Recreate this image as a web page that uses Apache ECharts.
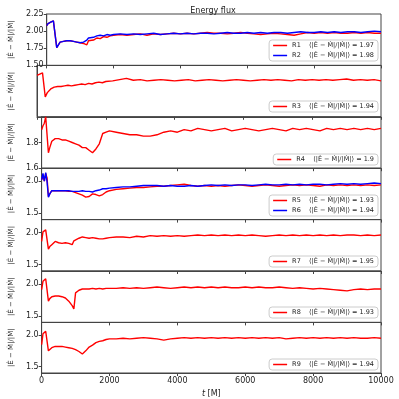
<!DOCTYPE html>
<html>
<head>
<meta charset="utf-8">
<script src="https://cdn.jsdelivr.net/npm/echarts@6/dist/echarts.min.js"></script>
<style>
  html, body { margin: 0; padding: 0; background: #fff; }
  #chart { width: 399px; height: 399px; }
</style>
</head>
<body>
<div id="chart"></div>
<script>
// time axis [M], shared by all runs
const times = [0, 40, 80, 120, 160, 200, 240, 300, 400, 500, 600, 700, 800, 850, 900, 950, 1000, 1100, 1200, 1250, 1300, 1400, 1500, 1600, 1700, 1800, 1900, 2000,
  2200, 2400, 2600, 2800, 3000, 3200, 3400, 3600, 3800, 4000, 4200, 4400, 4600, 4800, 5000, 5200, 5400, 5600, 5800, 6000,
  6200, 6400, 6600, 6800, 7000, 7200, 7400, 7600, 7800, 8000, 8200, 8400, 8600, 8800, 9000, 9200, 9400, 9600, 9800, 10000];

const R1 = [2.08, 2.11, 2.12, 2.13, 2.14, 2.15, 2.16, 1.76, 1.84, 1.85, 1.86, 1.86, 1.85, 1.85, 1.84, 1.84, 1.83, 1.82, 1.80, 1.86, 1.88, 1.87, 1.90, 1.89, 1.92, 1.91, 1.93, 1.94,
  1.95, 1.94, 1.95, 1.96, 1.94, 1.96, 1.95, 1.96, 1.97, 1.96, 1.97, 1.96, 1.97, 1.98, 1.97, 1.97, 1.96, 1.97, 1.98, 1.97,
  1.96, 1.95, 1.96, 1.97, 1.96, 1.95, 1.94, 1.96, 1.98, 1.97, 1.98, 1.97, 1.98, 1.97, 1.97, 1.98, 1.97, 1.98, 1.97, 1.97];
const R2 = [2.08, 2.11, 2.12, 2.13, 2.14, 2.15, 2.16, 1.76, 1.84, 1.85, 1.86, 1.86, 1.85, 1.85, 1.84, 1.84, 1.83, 1.84, 1.87, 1.90, 1.92, 1.91, 1.93, 1.94, 1.93, 1.95, 1.94, 1.95,
  1.96, 1.95, 1.96, 1.95, 1.96, 1.97, 1.95, 1.96, 1.97, 1.96, 1.97, 1.96, 1.97, 1.97, 1.96, 1.97, 1.98, 1.97, 1.97, 1.98,
  1.97, 1.98, 1.97, 1.98, 1.98, 1.97, 1.98, 1.99, 1.98, 1.98, 1.99, 1.98, 1.99, 1.98, 1.99, 1.99, 1.98, 1.99, 2.00, 1.99];
const R3 = [2.02, 2.03, 2.04, 2.05, 2.06, 2.07, 1.67, 1.74, 1.80, 1.83, 1.84, 1.84, 1.85, 1.84, 1.86, 1.85, 1.85, 1.86, 1.87, 1.86, 1.88, 1.87, 1.89, 1.88, 1.90, 1.91, 1.90, 1.92,
  1.93, 1.95, 1.97, 1.94, 1.95, 1.93, 1.94, 1.95, 1.94, 1.93, 1.94, 1.95, 1.93, 1.94, 1.95, 1.94, 1.93, 1.94, 1.95, 1.94,
  1.93, 1.94, 1.95, 1.94, 1.95, 1.94, 1.93, 1.95, 1.94, 1.95, 1.94, 1.95, 1.94, 1.95, 1.96, 1.94, 1.95, 1.94, 1.95, 1.93];
const R4 = [1.90, 1.93, 1.95, 2.00, 2.00, 1.72, 1.76, 1.81, 1.83, 1.83, 1.82, 1.82, 1.81, 1.80, 1.80, 1.79, 1.79, 1.78, 1.76, 1.75, 1.76, 1.74, 1.72, 1.75, 1.79, 1.87, 1.88, 1.89,
  1.88, 1.87, 1.86, 1.86, 1.85, 1.85, 1.86, 1.88, 1.89, 1.88, 1.90, 1.89, 1.91, 1.90, 1.89, 1.90, 1.91, 1.89, 1.90, 1.91,
  1.90, 1.89, 1.90, 1.91, 1.90, 1.89, 1.91, 1.90, 1.91, 1.90, 1.89, 1.91, 1.90, 1.91, 1.90, 1.91, 1.90, 1.91, 1.90, 1.91];
const R5 = [2.02, 2.08, 2.00, 2.12, 2.05, 1.76, 1.80, 1.85, 1.85, 1.85, 1.85, 1.85, 1.84, 1.84, 1.84, 1.83, 1.82, 1.80, 1.78, 1.77, 1.75, 1.76, 1.80, 1.79, 1.77, 1.79, 1.83, 1.85,
  1.87, 1.88, 1.89, 1.90, 1.90, 1.91, 1.92, 1.92, 1.93, 1.94, 1.95, 1.93, 1.92, 1.93, 1.92, 1.93, 1.92, 1.93, 1.94, 1.93,
  1.92, 1.93, 1.94, 1.93, 1.92, 1.93, 1.94, 1.93, 1.94, 1.93, 1.92, 1.94, 1.93, 1.94, 1.93, 1.94, 1.93, 1.94, 1.93, 1.94];
const R6 = [2.02, 2.12, 2.00, 2.13, 1.99, 1.75, 1.80, 1.85, 1.85, 1.85, 1.85, 1.85, 1.85, 1.85, 1.84, 1.85, 1.84, 1.84, 1.85, 1.84, 1.84, 1.84, 1.83, 1.85, 1.86, 1.88, 1.88, 1.89,
  1.90, 1.91, 1.91, 1.92, 1.93, 1.93, 1.93, 1.92, 1.93, 1.92, 1.92, 1.93, 1.92, 1.93, 1.94, 1.93, 1.94, 1.93, 1.94, 1.94,
  1.93, 1.94, 1.95, 1.94, 1.94, 1.95, 1.94, 1.95, 1.94, 1.95, 1.95, 1.94, 1.95, 1.96, 1.95, 1.96, 1.95, 1.96, 1.97, 1.96];
const R7 = [1.86, 2.01, 2.03, 2.04, 2.04, 1.74, 1.78, 1.81, 1.86, 1.84, 1.83, 1.84, 1.83, 1.82, 1.81, 1.87, 1.89, 1.91, 1.93, 1.92, 1.92, 1.91, 1.92, 1.91, 1.90, 1.90, 1.91, 1.92,
  1.93, 1.93, 1.92, 1.94, 1.93, 1.95, 1.94, 1.95, 1.94, 1.95, 1.94, 1.95, 1.96, 1.95, 1.96, 1.95, 1.96, 1.95, 1.96, 1.95,
  1.96, 1.95, 1.94, 1.95, 1.96, 1.95, 1.96, 1.95, 1.96, 1.95, 1.96, 1.95, 1.96, 1.95, 1.96, 1.96, 1.95, 1.96, 1.95, 1.96];
const R8 = [1.91, 2.04, 2.07, 2.08, 2.07, 1.73, 1.77, 1.80, 1.81, 1.81, 1.80, 1.78, 1.73, 1.70, 1.66, 1.61, 1.86, 1.90, 1.92, 1.91, 1.92, 1.92, 1.93, 1.92, 1.93, 1.92, 1.93, 1.93,
  1.93, 1.94, 1.93, 1.94, 1.93, 1.94, 1.95, 1.94, 1.93, 1.94, 1.95, 1.94, 1.95, 1.94, 1.95, 1.94, 1.95, 1.94, 1.94, 1.95,
  1.94, 1.95, 1.94, 1.94, 1.95, 1.94, 1.93, 1.94, 1.93, 1.92, 1.93, 1.92, 1.91, 1.90, 1.89, 1.91, 1.92, 1.91, 1.92, 1.92];
const R9 = [1.85, 2.02, 2.05, 2.06, 2.07, 1.75, 1.78, 1.80, 1.82, 1.82, 1.82, 1.81, 1.80, 1.80, 1.79, 1.78, 1.77, 1.74, 1.70, 1.69, 1.75, 1.81, 1.84, 1.88, 1.90, 1.91, 1.93, 1.94,
  1.94, 1.95, 1.94, 1.95, 1.96, 1.95, 1.94, 1.92, 1.94, 1.95, 1.96, 1.95, 1.96, 1.95, 1.96, 1.95, 1.96, 1.95, 1.96, 1.95,
  1.96, 1.95, 1.96, 1.95, 1.96, 1.94, 1.95, 1.96, 1.95, 1.96, 1.95, 1.96, 1.95, 1.96, 1.95, 1.96, 1.95, 1.95, 1.96, 1.95];

const runNames = ['R1', 'R2', 'R3', 'R4', 'R5', 'R6', 'R7', 'R8', 'R9'];
const runValues = [R1, R2, R3, R4, R5, R6, R7, R8, R9];
const runMeans = ['1.97', '1.98', '1.94', '1.9', '1.93', '1.94', '1.95', '1.93', '1.94'];
const runColors = ['#ff0000', '#0000ff', '#ff0000', '#ff0000', '#ff0000', '#0000ff', '#ff0000', '#ff0000', '#ff0000'];
const runPanel = [0, 0, 1, 2, 3, 3, 4, 5, 6];

const yRanges = [[1.5, 2.25], [1.35, 2.18], [1.6, 2.0], [1.4, 2.2], [1.4, 2.2], [1.4, 2.2], [1.4, 2.2]];
const yTickLabels = [[1.5, 1.75, 2.0, 2.25], [], [1.6, 1.8], [1.5, 2.0], [1.5, 2.0], [1.5, 2.0], [1.5, 2.0]];
const legendTops = [40, 101, 154, 195, 256, 307, 359];

const yName = '|Ė − Ṁ|/|Ṁ|';
const meanText = '⟨|Ė − Ṁ|/|Ṁ|⟩';

const panelTop = 14, panelH = 51.4, nPanels = 7;
const chart = echarts.init(document.getElementById('chart'), null, { renderer: 'canvas' });

const grids = [], xAxes = [], yAxes = [], legends = [];
for (let p = 0; p < nPanels; p++) {
  const last = p === nPanels - 1;
  grids.push({ left: 36, right: 18, top: panelTop + p * panelH, height: panelH, show: true, borderColor: '#444', borderWidth: 1, backgroundColor: 'transparent' });
  xAxes.push({
    gridIndex: p, type: 'value', min: 0, max: 10000, interval: 2000,
    axisLine: { show: true, lineStyle: { color: '#444' } },
    axisTick: { show: true, length: 3, lineStyle: { color: '#444' } },
    axisLabel: { show: last, fontSize: 8, color: '#222', margin: 4, fontFamily: 'DejaVu Sans', formatter: v => String(v) },
    splitLine: { show: false },
    name: last ? '{i|t} [M]' : '',
    nameLocation: 'middle', nameGap: 17,
    nameTextStyle: { fontSize: 8, color: '#222', fontFamily: 'DejaVu Sans', rich: { i: { fontStyle: 'italic', fontSize: 8, fontFamily: 'DejaVu Sans' } } }
  });
  const dec = p === 0 ? 2 : 1;
  yAxes.push({
    gridIndex: p, type: 'value', min: yRanges[p][0], max: yRanges[p][1],
    axisLine: { show: true, lineStyle: { color: '#444' } },
    axisTick: { show: yTickLabels[p].length > 0, length: 3, customValues: yTickLabels[p], lineStyle: { color: '#444' } },
    axisLabel: { show: yTickLabels[p].length > 0, customValues: yTickLabels[p], fontSize: 8, color: '#222', margin: 3, fontFamily: 'DejaVu Sans', formatter: v => v.toFixed(dec) },
    splitLine: { show: false },
    name: yName, nameLocation: 'middle', nameGap: p === 0 ? 24 : 22, nameRotate: 90,
    nameTextStyle: { fontSize: 7, color: '#222', fontFamily: 'DejaVu Sans' }
  });
  const names = runNames.filter((n, i) => runPanel[i] === p);
  legends.push({
    data: names, orient: 'vertical', right: 21, top: legendTops[p],
    backgroundColor: '#fff', borderColor: '#ccc', borderWidth: 1, borderRadius: 3,
    padding: [2, 4, 2, 4], itemGap: 3, itemWidth: 14, itemHeight: 1.5, icon: 'rect',
    selectedMode: false,
    textStyle: { fontSize: 6.5, color: '#222', fontFamily: 'DejaVu Sans' },
    formatter: name => name + '    ' + meanText + ' = ' + runMeans[runNames.indexOf(name)]
  });
}

const series = runNames.map((name, i) => ({
  name: name, type: 'line',
  xAxisIndex: runPanel[i], yAxisIndex: runPanel[i],
  data: times.map((t, k) => [t, runValues[i][k]]),
  showSymbol: false, symbol: 'none',
  lineStyle: { width: 1.4, color: runColors[i] },
  itemStyle: { color: runColors[i] },
  clip: true
}));

chart.setOption({
  animation: false,
  title: { text: 'Energy flux', left: 208, top: 2, textAlign: 'center', textStyle: { fontSize: 8, fontWeight: 'normal', color: '#222', fontFamily: 'DejaVu Sans' } },
  grid: grids, xAxis: xAxes, yAxis: yAxes, legend: legends, series: series
});
</script>
</body>
</html>
